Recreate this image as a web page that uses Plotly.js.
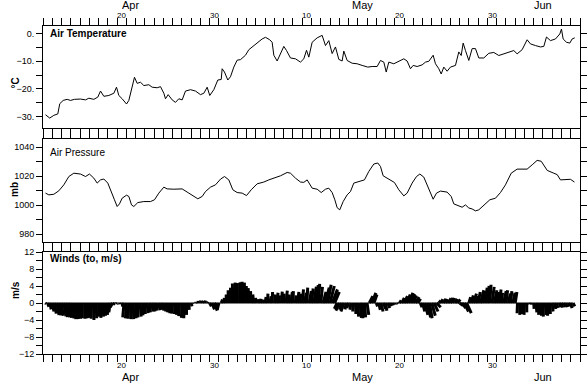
<!DOCTYPE html>
<html><head><meta charset="utf-8">
<script src="https://cdn.plot.ly/plotly-3.0.1.min.js"></script>
<style>html,body{margin:0;padding:0;background:#fff}#chart{width:587px;height:385px}</style>
</head><body><div id="chart"></div>
<script>
// Time unit: days since 1 April 00:00 (Apr 20 00:00 = 19, May 1 00:00 = 30, Jun 1 00:00 = 61)
const xRange = [11, 69];

const tempTime = [11.27,11.73,12.17,12.60,12.81,13.18,13.61,13.97,14.40,15.05,
15.59,15.95,16.49,16.92,17.21,17.57,18.11,18.65,18.94,19.19,
19.55,20.02,20.27,20.56,20.88,21.17,21.53,21.89,22.43,22.79,
23.33,23.69,24.05,24.23,24.52,24.95,25.31,25.67,26.03,26.39,
26.93,27.47,28.01,28.37,28.73,29.01,29.45,29.88,30.25,30.35,
30.60,30.96,31.25,31.61,31.97,32.33,32.87,33.23,33.77,34.31,
34.67,35.03,35.49,35.75,35.93,36.29,36.65,37.01,37.30,37.73,
38.27,38.81,39.17,39.46,39.71,40.07,40.61,41.15,41.51,41.87,
42.23,42.59,42.95,43.31,43.49,43.85,44.39,44.93,45.47,46.08,
46.55,47.09,47.45,47.81,48.07,48.35,48.89,49.43,49.97,50.33,
50.69,50.98,51.41,51.95,52.31,52.67,53.14,53.39,53.75,54.01,
54.29,54.65,55.01,55.55,55.91,56.17,56.38,56.63,56.99,57.35,
57.71,58.07,58.61,59.15,59.69,60.23,60.77,61.31,61.85,62.21,
62.75,63.29,63.65,64.19,64.73,65.09,65.38,65.81,66.35,66.82,
67.00,67.18,67.54,67.90,68.15,68.43];
const tempValue = [-29.4,-30.6,-29.6,-29.1,-25.4,-24.2,-23.8,-24.2,-23.8,-23.7,
-24.0,-23.4,-23.8,-23.0,-20.8,-22.7,-22.4,-21.6,-19.4,-22.4,
-23.6,-25.5,-24.2,-19.6,-15.8,-18.0,-17.6,-18.8,-18.5,-19.4,
-19.6,-19.2,-21.6,-23.6,-22.1,-24.0,-24.9,-23.6,-24.0,-20.8,
-20.3,-20.8,-22.1,-21.6,-19.4,-22.4,-20.3,-16.8,-16.6,-12.7,
-13.9,-16.8,-15.6,-12.1,-9.6,-9.4,-7.8,-5.8,-4.3,-3.1,
-1.9,-1.3,-2.2,-3.1,-7.8,-9.9,-7.3,-4.6,-6.1,-8.8,
-9.1,-10.3,-9.1,-6.0,-8.5,-3.1,-1.5,-0.6,-4.3,-2.5,
-7.2,-4.8,-9.3,-9.9,-6.3,-9.7,-10.7,-10.9,-11.5,-12.1,
-11.9,-11.9,-9.7,-10.3,-13.9,-10.3,-10.9,-10.0,-9.1,-9.9,
-12.7,-11.5,-11.9,-11.3,-10.3,-10.0,-7.8,-10.9,-12.7,-14.6,
-12.1,-13.6,-12.1,-11.5,-6.6,-7.9,-3.4,-6.1,-9.7,-5.4,
-5.4,-8.8,-8.8,-7.1,-6.8,-7.9,-7.3,-6.8,-6.1,-7.3,
-5.8,-2.2,-3.7,-4.3,-4.8,-4.6,-1.2,-2.5,-1.9,-0.1,
1.7,-1.9,-3.1,-3.4,-1.9,-1.5];

const pressTime = [11.27,11.63,12.17,12.71,13.25,13.79,14.33,15.05,15.59,16.02,
16.49,16.85,17.21,17.57,18.00,18.40,18.72,19.01,19.26,19.55,
20.02,20.27,20.56,20.81,21.24,21.89,22.61,23.04,23.51,24.05,
24.41,25.13,26.03,26.75,27.29,27.72,28.19,28.55,29.09,29.63,
30.17,30.60,31.07,31.50,31.97,32.51,32.98,33.49,34.13,34.85,
35.39,36.00,36.65,37.37,37.73,38.27,38.81,39.17,39.53,40.07,
40.61,41.05,41.51,41.87,42.23,42.52,42.77,43.05,43.42,43.85,
44.21,44.57,45.11,45.72,46.19,46.73,47.16,47.45,47.74,48.35,
48.96,49.43,49.97,50.33,50.87,51.34,51.70,52.13,52.56,52.93,
53.14,53.50,53.93,54.65,55.09,55.37,55.91,56.27,56.63,56.99,
57.35,57.71,58.07,58.61,59.26,59.87,60.41,60.95,61.57,62.21,
63.29,63.84,64.37,64.81,65.46,66.17,66.54,66.89,67.43,67.97,68.40];
const pressValue = [1008.3,1007.1,1007.5,1009.9,1014.0,1019.7,1022.0,1021.4,1019.7,1021.4,
1018.6,1015.2,1017.4,1018.0,1015.2,1009.4,1003.7,999.1,1000.9,1004.8,
1006.9,1006.0,1000.2,999.1,1001.8,1002.5,1002.5,1003.7,1008.3,1012.4,
1011.2,1011.0,1011.2,1008.3,1006.0,1004.4,1006.0,1009.4,1012.4,1014.0,
1017.9,1019.7,1017.4,1010.6,1008.7,1008.3,1006.6,1010.6,1014.7,1015.9,
1017.4,1018.6,1020.2,1022.5,1022.0,1018.6,1015.9,1015.7,1017.4,1011.7,
1011.0,1008.7,1011.0,1011.7,1008.7,1003.7,998.3,996.8,1002.5,1007.1,
1009.4,1015.2,1016.3,1017.4,1023.2,1028.3,1029.0,1026.6,1020.2,1017.9,
1015.6,1010.6,1006.4,1008.3,1015.2,1019.7,1021.4,1019.3,1012.8,1007.1,
1004.1,1008.3,1009.7,1009.0,1006.0,1000.9,999.5,998.6,1000.2,998.1,
997.4,996.1,996.8,1000.2,1003.7,1004.8,1008.7,1014.0,1022.0,1024.8,
1024.8,1027.8,1030.8,1030.2,1023.9,1022.0,1021.0,1017.4,1017.8,1017.8,1015.9];

// Winds: 6-hourly observations starting 11 Apr 06:00 (day 11.25)
const windStart = 11.25, windStep = 0.25;
const windV = [-0.2,-0.9,-1.5,
-2.0,-2.5,-2.8,-2.9, -3.0,-3.1,-3.3,-3.4, -3.5,-3.6,-3.8,-3.8, -3.7,-3.6,-3.7,-3.6,
-3.5,-3.7,-4.0,-3.6, -3.2,-3.5,-3.2,-3.0, -2.8,-2.2,-1.0,-0.4, -0.2,-0.3,-0.8,-3.4,
-3.6,-3.7,-3.8,-3.8, -3.6,-3.4,-3.2,-2.9, -2.6,-2.4,-2.2,-2.0, -2.0,-1.8,-1.7,-1.6,
-1.8,-2.0,-2.2,-2.4, -2.5,-2.6,-2.8,-3.1, -3.5,-3.6,-2.8,-1.6, -0.8,-0.1,0.2,0.5,
0.6,0.5,0.6,0.3, -0.8,-1.5,-1.8,-1.2, -1.6,0.8,1.2,2.0, 3.0,3.6,4.6,4.8,
4.7,4.9,5.0,4.8, 4.0,3.5,2.8,2.0, 1.2,0.9,1.0,0.8, 1.4,2.2,1.6,2.6,
2.0,2.4,1.8,2.7, 2.2,2.9,2.0,2.6, 2.8,1.8,2.6,2.2, 3.2,2.4,3.6,2.8,
3.4,3.8,4.2,4.5, 3.8,2.6,3.6,4.3, 4.0,3.2,2.6,-1.4, -1.8,-1.6,-2.0,-1.5,
-1.2,-1.6,-2.0,-2.6, -3.2,-3.5,-3.6,-3.4, -2.8,1.6,2.4,2.0, -0.8,-1.6,-2.0,-1.4,
-1.8,-1.2,-0.8,-0.6, -0.4,-0.2,0.6,1.2, 1.6,2.0,2.4,2.2, 1.8,1.4,1.0,-1.0,
-2.0,-2.8,-3.4,-3.6, -3.0,-2.0,-1.0,0.6, 0.9,1.0,0.9,1.1, 1.2,1.2,1.0,0.8,
-0.6,-1.2,-2.0,-2.4, 1.4,1.8,2.2,1.6, 2.6,3.0,2.8,3.6, 4.0,4.3,3.8,3.0,
2.6,3.2,2.4,2.8, 3.0,2.2,2.8,2.4, 2.6,-2.4,-2.8,-2.6, -2.8,-2.2,-0.3,-0.4,
-1.4,-2.2,-2.8,-3.0, -3.2,-2.8,-3.0,-2.6, -2.0,-1.4,-1.2,-1.0, -1.1,-0.9,-1.0,-0.8,
-1.2,-0.8];
const windU = [0.2,0.3,0.3,
0.4,0.4,0.5,0.4, 0.4,0.5,0.3,0.3, 0.2,0.2,0.1,0.1, 0.1,0.0,0.1,0.0,
0.0,-0.1,0.0,0.1, 0.1,0.0,0.1,0.0, -0.1,-0.3,-0.5,-0.4, -0.2,0.1,0.3,-0.3,
-0.2,-0.1,0.0,0.1, 0.1,0.0,0.2,0.1, 0.1,0.2,0.2,0.3, 0.2,0.1,0.3,0.2,
0.1,0.0,-0.1,-0.1, -0.2,-0.1,-0.2,-0.2, -0.1,-0.1,0.0,0.1, 0.2,0.1,0.1,0.0,
0.1,0.2,0.1,0.2, 0.4,0.6,0.7,-0.5, -0.4,0.3,0.2,0.1, 0.0,0.0,-0.1,0.0,
0.0,0.1,0.0,0.0, -0.1,-0.2,-0.2,-0.2, -0.1,0.1,0.1,0.2, 0.2,0.1,0.3,0.1,
0.2,0.3,0.1,0.2, 0.1,0.3,0.2,0.4, 0.1,0.2,0.3,0.2, 0.3,0.4,0.2,0.5,
0.4,0.6,0.5,0.3, 0.4,0.7,0.9,0.8, 1.0,1.2,1.1,-0.6, -0.8,-0.5,-0.7,-0.3,
-0.4,-0.2,-0.1,0.1, 0.2,0.3,0.1,0.2, 0.4,0.8,1.0,0.7, 0.3,0.4,0.5,0.6,
0.3,0.4,0.2,0.1, 0.1,0.2,0.4,0.6, 0.8,0.9,1.0,0.8, 0.7,0.8,0.6,0.4,
0.5,0.7,0.8,0.6, 0.8,0.9,1.0,0.5, 0.4,0.6,0.5,0.7, 0.6,0.4,0.5,0.7,
0.8,0.9,1.0,1.1, 0.4,0.5,0.7,0.6, 0.5,0.8,0.7,0.5, 0.4,0.3,0.5,0.6,
0.4,0.5,0.3,0.6, 0.4,0.5,0.3,0.5, 0.4,-0.1,0.0,0.0, -0.1,0.0,0.1,0.0,
0.1,0.2,0.1,0.2, 0.1,0.2,0.0,0.1, 0.2,0.3,0.2,0.4, 0.3,0.4,0.2,0.3,
0.3,0.4];

const dayLabelPos = [19.5, 29.5, 39.5, 49.5, 59.5];
const dayLabelText = ['20', '30', '10', '20', '30'];
const monthLabelPos = [20.5, 45.5, 65];
const monthLabelText = ['Apr', 'May', 'Jun'];

const tempTicks = [-30,-25,-20,-15,-10,-5,0];
const tempTickText = ['\u221230.','','\u221220.','','\u221210.','','0.'];
const pressTicks = [980,990,1000,1010,1020,1030,1040];
const pressTickText = ['980','','1000','','1020','','1040'];
const windTicks = [-12,-10,-8,-6,-4,-2,0,2,4,6,8,10,12];
const windTickText = ['\u221212','','\u22128','','\u22124','','0','','4','','8','','12'];

// ---------- layout geometry ----------
const W = 587, H = 385;
const M = {l: 43, r: 7, t: 26, b: 31};
const plotW = W - M.l - M.r, plotH = H - M.t - M.b;
const py = p => (H - M.b - p) / plotH;            // pixel row -> paper y
const px = p => (p - M.l) / plotW;                // pixel col -> paper x
const dom = (top, bot) => [py(bot), py(top)];
const domT = dom(26, 128), domP = dom(139, 242), domW = dom(252, 354);
const tempRange = [-34.2, 2.8], pressRange = [974.7, 1045.5], windRange = [-12, 12];

const FONT = 'Liberation Sans, Arial, Helvetica, sans-serif';

// stick scaling: 1 m/s horizontally = 1 m/s vertically in pixels
const pxPerDay = plotW / (xRange[1] - xRange[0]);
const pxPerMs = (domW[1] - domW[0]) * plotH / (windRange[1] - windRange[0]);
const k = pxPerMs / pxPerDay;
const sx = [], sy = [];
const windTime = windV.map((_, i) => windStart + i * windStep);
windV.forEach((v, i) => {
  const t = windTime[i];
  sx.push(t, t + windU[i] * k, null);
  sy.push(0, v, null);
});

const line = {color: '#000', width: 1};
const traces = [
  {x: tempTime, y: tempValue, xaxis: 'x3', yaxis: 'y3', mode: 'lines', line: line, hoverinfo: 'skip'},
  {x: pressTime, y: pressValue, xaxis: 'x2', yaxis: 'y2', mode: 'lines', line: line, hoverinfo: 'skip'},
  {x: sx, y: sy, xaxis: 'x', yaxis: 'y', mode: 'lines', line: {color: '#000', width: 3}, connectgaps: false, hoverinfo: 'skip'},
  {x: [windTime[0], windTime[windTime.length - 1]], y: [0, 0], xaxis: 'x', yaxis: 'y', mode: 'lines', line: line, hoverinfo: 'skip'}
];

const xBase = {
  range: xRange, tickmode: 'linear', tick0: xRange[0], dtick: 1,
  ticks: 'outside', ticklen: 7, tickwidth: 1, tickcolor: '#000',
  showline: true, linecolor: '#000', linewidth: 1, mirror: 'ticks',
  showticklabels: false, showgrid: false, zeroline: false, fixedrange: true
};
const yBase = {
  ticks: 'outside', ticklen: 6, tickwidth: 1, tickcolor: '#000',
  showline: true, linecolor: '#000', linewidth: 1, mirror: 'ticks',
  showgrid: false, zeroline: false, tickmode: 'array', fixedrange: true,
  tickfont: {family: FONT, size: 9, color: '#000'}
};

const ann = [];
const txt = (o) => ann.push(Object.assign({showarrow: false, font: {family: FONT, size: 9, color: '#000'}, borderpad: 0}, o));
dayLabelPos.forEach((d, i) => {
  txt({x: d, xref: 'x', y: py(15.5), yref: 'paper', text: dayLabelText[i], yanchor: 'middle', font: {family: FONT, size: 8, color: '#000'}});
  txt({x: d, xref: 'x', y: py(365.5), yref: 'paper', text: dayLabelText[i], yanchor: 'middle', font: {family: FONT, size: 8, color: '#000'}});
});
monthLabelPos.forEach((d, i) => {
  txt({x: d, xref: 'x', y: py(4.5), yref: 'paper', text: monthLabelText[i], yanchor: 'middle', font: {family: FONT, size: 11, color: '#000'}});
  txt({x: d, xref: 'x', y: py(377.5), yref: 'paper', text: monthLabelText[i], yanchor: 'middle', font: {family: FONT, size: 11, color: '#000'}});
});
txt({x: px(49), xref: 'paper', y: py(33.5), yref: 'paper', xanchor: 'left', yanchor: 'middle', text: '<b>Air Temperature</b>', font: {family: FONT, size: 10, color: '#000'}});
txt({x: px(49), xref: 'paper', y: py(152.5), yref: 'paper', xanchor: 'left', yanchor: 'middle', text: 'Air Pressure', font: {family: FONT, size: 10, color: '#000'}});
txt({x: px(49), xref: 'paper', y: py(258), yref: 'paper', xanchor: 'left', yanchor: 'middle', text: '<b>Winds (to, m/s)</b>', font: {family: FONT, size: 10, color: '#000'}});
txt({x: px(8.5), xref: 'paper', y: py(77), yref: 'paper', textangle: -90, text: '<b>\u00B0C</b>', font: {family: FONT, size: 10, color: '#000'}});
txt({x: px(7.5), xref: 'paper', y: py(190), yref: 'paper', textangle: -90, text: '<b>mb</b>', font: {family: FONT, size: 10, color: '#000'}});
txt({x: px(8.5), xref: 'paper', y: py(300), yref: 'paper', textangle: -90, text: '<b>m/s</b>', font: {family: FONT, size: 10, color: '#000'}});

const layout = {
  width: W, height: H, margin: M, paper_bgcolor: '#fff', plot_bgcolor: '#fff',
  showlegend: false, font: {family: FONT, color: '#000'},
  xaxis: Object.assign({}, xBase, {anchor: 'y'}),
  xaxis2: Object.assign({}, xBase, {anchor: 'y2', matches: 'x'}),
  xaxis3: Object.assign({}, xBase, {anchor: 'y3', matches: 'x'}),
  yaxis: Object.assign({}, yBase, {domain: domW, range: windRange, tickvals: windTicks, ticktext: windTickText, anchor: 'x'}),
  yaxis2: Object.assign({}, yBase, {domain: domP, range: pressRange, tickvals: pressTicks, ticktext: pressTickText, anchor: 'x2'}),
  yaxis3: Object.assign({}, yBase, {domain: domT, range: tempRange, tickvals: tempTicks, ticktext: tempTickText, anchor: 'x3'}),
  annotations: ann
};

Plotly.newPlot('chart', traces, layout, {displayModeBar: false, staticPlot: true});
</script>
</body></html>
